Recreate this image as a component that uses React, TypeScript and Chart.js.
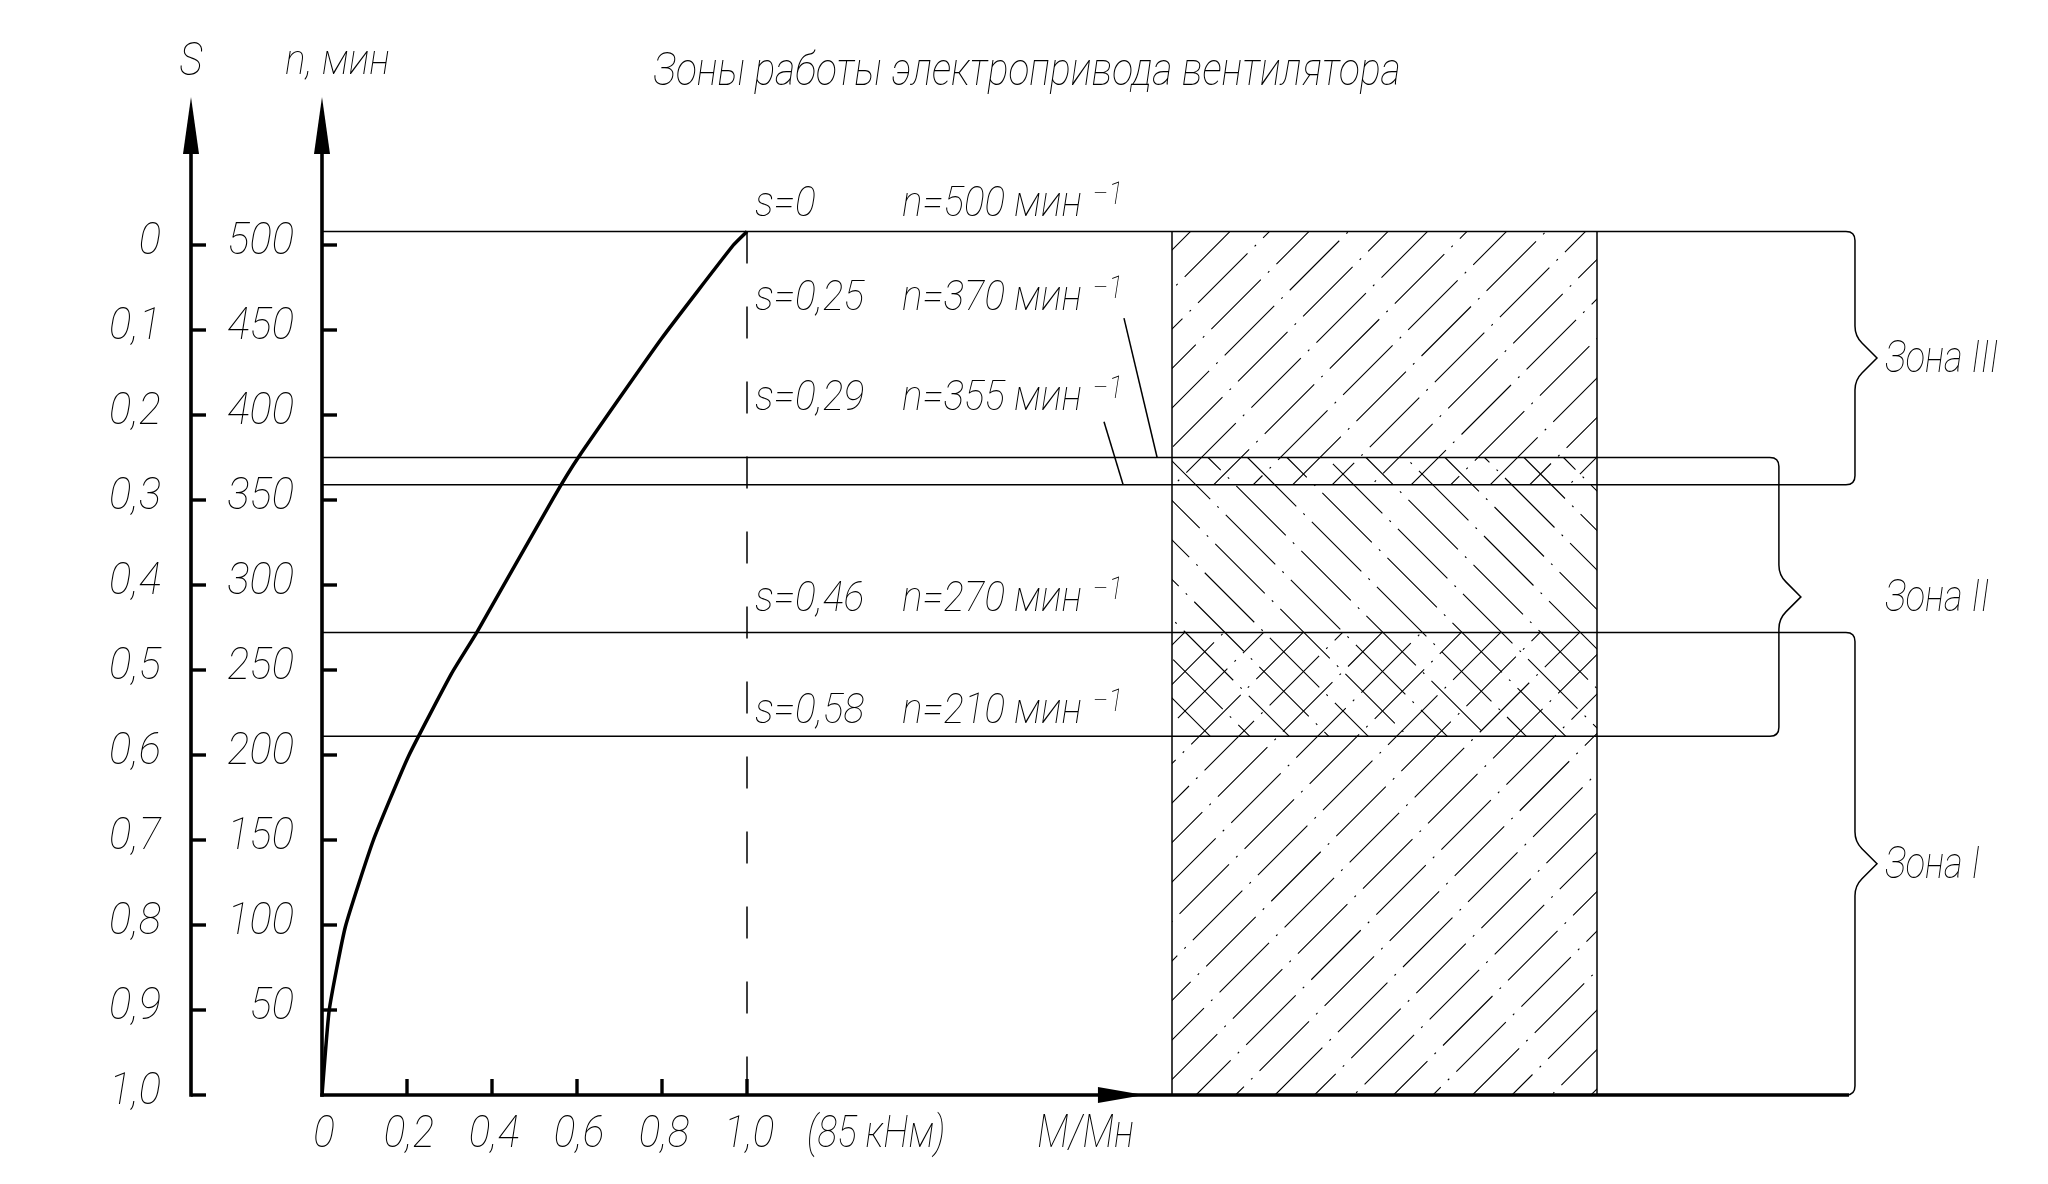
import React, { useEffect, useRef } from "react";
import { Chart, registerables } from "chart.js";

Chart.register(...registerables);

// ---- data ----
const torqueM = [0, 0.017, 0.055, 0.121, 0.203, 0.305, 0.364, 0.544, 0.603, 0.799, 0.968, 1.0];
const speedN = [0, 50, 99, 150, 199, 248, 272, 351, 375, 445, 500, 508];

const nTickValues = [50, 100, 150, 200, 250, 300, 350, 400, 450, 500];
const sTickValues = [0, 0.1, 0.2, 0.3, 0.4, 0.5, 0.6, 0.7, 0.8, 0.9, 1.0];
const sTickLabels = ["0", "0,1", "0,2", "0,3", "0,4", "0,5", "0,6", "0,7", "0,8", "0,9", "1,0"];
const mTickValues = [0, 0.2, 0.4, 0.6, 0.8, 1.0];
const mTickLabels = ["0", "0,2", "0,4", "0,6", "0,8", "1,0"];

// boundary lines (n as drawn) and their annotations
const boundaryN = [508, 375, 359, 272, 211];
const boundarySlip = ["s=0", "s=0,25", "s=0,29", "s=0,46", "s=0,58"];
const boundarySpeed = ["n=500 мин", "n=370 мин", "n=355 мин", "n=270 мин", "n=210 мин"];

// zones
const zoneNames = ["Зона III", "Зона II", "Зона I"];
const zoneTopN = [508, 375, 272];
const zoneBottomN = [359, 211, 0];
const zoneHatch = ["/", "\\", "/"];

const hatchM = [2.0, 3.0];
const nominalM = 1.0;

const titleText = "Зоны работы электропривода вентилятора";

// ---- layout (positions, not data) ----
const annotationN = [517, 462, 403, 285, 219];
const zoneBraceM = [3.607, 3.428, 3.607];
const leaderLines = [
  [1.887, 457, 1.965, 375],
  [1.84, 396, 1.885, 359],
];

const FONT = "Roboto";

function txt(
  ctx: CanvasRenderingContext2D,
  s: string,
  x: number,
  y: number,
  size: number,
  align: CanvasTextAlign = "left",
  sx = 0.8
): number {
  ctx.save();
  ctx.font = `italic 100 ${size}px ${FONT}`;
  ctx.textAlign = align;
  ctx.textBaseline = "alphabetic";
  ctx.fillStyle = "#000";
  ctx.translate(x, y);
  ctx.scale(sx, 1);
  ctx.fillText(s, 0, 0);
  const w = ctx.measureText(s).width * sx;
  ctx.restore();
  return w;
}

function hatch(
  ctx: CanvasRenderingContext2D,
  x0: number,
  y0: number,
  x1: number,
  y1: number,
  dir: string
) {
  const sp = 39.5;
  ctx.save();
  ctx.beginPath();
  ctx.rect(x0, y0, x1 - x0, y1 - y0);
  ctx.clip();
  ctx.strokeStyle = "#000";
  ctx.lineWidth = 1.1;
  if (dir === "/") {
    const cStart = Math.floor((x0 + y0) / sp) * sp;
    let i = 0;
    for (let c = cStart; c <= x1 + y1; c += sp, i++) {
      ctx.setLineDash([70, 10, 2, 10]);
      ctx.lineDashOffset = (i * 37) % 92;
      ctx.beginPath();
      ctx.moveTo(c - y1, y1);
      ctx.lineTo(c - y0, y0);
      ctx.stroke();
    }
  } else {
    const cStart = Math.floor((x0 - y1) / sp) * sp;
    let i = 0;
    for (let c = cStart; c <= x1 - y0; c += sp, i++) {
      ctx.setLineDash([70, 10, 2, 10]);
      ctx.lineDashOffset = (i * 41) % 92;
      ctx.beginPath();
      ctx.moveTo(c + y0, y0);
      ctx.lineTo(c + y1, y1);
      ctx.stroke();
    }
  }
  ctx.restore();
}

function brace(
  ctx: CanvasRenderingContext2D,
  xL: number,
  bx: number,
  yT: number,
  yB: number
) {
  const r = 9;
  const tip = 22;
  const ym = (yT + yB) / 2;
  ctx.beginPath();
  ctx.moveTo(xL, yT);
  ctx.lineTo(bx - r, yT);
  ctx.quadraticCurveTo(bx, yT, bx, yT + r);
  ctx.lineTo(bx, ym - 32);
  ctx.quadraticCurveTo(bx, ym - 22, bx + 7, ym - 15);
  ctx.lineTo(bx + tip, ym);
  ctx.lineTo(bx + 7, ym + 15);
  ctx.quadraticCurveTo(bx, ym + 22, bx, ym + 32);
  ctx.lineTo(bx, yB - r);
  ctx.quadraticCurveTo(bx, yB, bx - r, yB);
  ctx.lineTo(xL, yB);
  ctx.stroke();
}

function arrowUp(ctx: CanvasRenderingContext2D, x: number, yTip: number) {
  ctx.beginPath();
  ctx.moveTo(x, yTip);
  ctx.lineTo(x + 8, yTip + 57);
  ctx.lineTo(x - 8, yTip + 57);
  ctx.closePath();
  ctx.fill();
}

const drawingPlugin = {
  id: "drawing",
  beforeDraw(chart: any) {
    const ctx = chart.ctx;
    ctx.save();
    ctx.fillStyle = "#fff";
    ctx.fillRect(0, 0, chart.width, chart.height);
    ctx.restore();
  },
  beforeDatasetsDraw(chart: any) {
    const ctx: CanvasRenderingContext2D = chart.ctx;
    const xs = chart.scales.x;
    const ys = chart.scales.y;
    const X = (v: number) => xs.getPixelForValue(v);
    const Y = (v: number) => ys.getPixelForValue(v);
    ctx.save();
    ctx.strokeStyle = "#000";
    ctx.fillStyle = "#000";

    // hatching
    for (let i = 0; i < zoneNames.length; i++) {
      hatch(ctx, X(hatchM[0]), Y(zoneTopN[i]), X(hatchM[1]), Y(zoneBottomN[i]), zoneHatch[i]);
    }
    ctx.setLineDash([]);
    ctx.lineWidth = 1.5;
    // hatch rectangle borders
    for (const m of hatchM) {
      ctx.beginPath();
      ctx.moveTo(X(m), Y(zoneTopN[0]));
      ctx.lineTo(X(m), Y(0));
      ctx.stroke();
    }
    // boundary lines + braces
    for (let i = 0; i < zoneNames.length; i++) {
      brace(ctx, X(0), X(zoneBraceM[i]), Y(zoneTopN[i]), Y(zoneBottomN[i]));
    }
    // zone labels
    const labelX = X(Math.max(...zoneBraceM)) + 30;
    for (let i = 0; i < zoneNames.length; i++) {
      const ym = (Y(zoneTopN[i]) + Y(zoneBottomN[i])) / 2;
      txt(ctx, zoneNames[i], labelX, ym + 14, 44, "left", 0.82);
    }
    // nominal torque dashed line
    ctx.save();
    ctx.lineWidth = 1.5;
    ctx.setLineDash([32, 43]);
    ctx.beginPath();
    ctx.moveTo(X(nominalM), Y(boundaryN[0]));
    ctx.lineTo(X(nominalM), Y(0));
    ctx.stroke();
    ctx.restore();
    // leader lines
    ctx.lineWidth = 1.5;
    for (const l of leaderLines) {
      ctx.beginPath();
      ctx.moveTo(X(l[0]), Y(l[1]));
      ctx.lineTo(X(l[2]), Y(l[3]));
      ctx.stroke();
    }
    // annotations
    const sX = X(nominalM) + 8;
    const nX = sX + 147;
    for (let i = 0; i < boundaryN.length; i++) {
      const by = Y(annotationN[i]);
      txt(ctx, boundarySlip[i], sX, by, 42, "left", 0.93);
      const w = txt(ctx, boundarySpeed[i], nX, by, 42, "left", 0.92);
      txt(ctx, "\u22121", nX + w + 10, by - 12, 32, "left", 0.9);
    }
    ctx.restore();
  },
  afterDatasetsDraw(chart: any) {
    const ctx: CanvasRenderingContext2D = chart.ctx;
    const xs = chart.scales.x;
    const ys = chart.scales.y;
    const ss = chart.scales.s;
    const X = (v: number) => xs.getPixelForValue(v);
    const Y = (v: number) => ys.getPixelForValue(v);
    const x0 = X(0);
    const y0 = Y(0);
    const sAxisX = x0 - 131;
    const topTip = chart.chartArea.top + 22;
    ctx.save();
    ctx.strokeStyle = "#000";
    ctx.fillStyle = "#000";
    ctx.setLineDash([]);
    ctx.lineWidth = 3.6;
    ctx.lineCap = "butt";
    // S axis
    ctx.beginPath();
    ctx.moveTo(sAxisX, topTip + 40);
    ctx.lineTo(sAxisX, y0 + 1.8);
    ctx.stroke();
    arrowUp(ctx, sAxisX, topTip);
    // n axis
    ctx.beginPath();
    ctx.moveTo(x0, topTip + 40);
    ctx.lineTo(x0, y0 + 1.8);
    ctx.stroke();
    arrowUp(ctx, x0, topTip);
    // M axis
    const xEnd = X(Math.max(...zoneBraceM)) - 6;
    ctx.beginPath();
    ctx.moveTo(x0 - 1.8, y0);
    ctx.lineTo(xEnd, y0);
    ctx.stroke();
    const aTip = X(1.934);
    ctx.beginPath();
    ctx.moveTo(aTip, y0);
    ctx.lineTo(aTip - 46, y0 - 8);
    ctx.lineTo(aTip - 46, y0 + 8);
    ctx.closePath();
    ctx.fill();

    // S ticks
    ctx.lineWidth = 3.4;
    for (let i = 0; i < sTickValues.length; i++) {
      const y = ss.getPixelForValue(sTickValues[i]);
      ctx.beginPath();
      ctx.moveTo(sAxisX, y);
      ctx.lineTo(sAxisX + 15, y);
      ctx.stroke();
      txt(ctx, sTickLabels[i], sAxisX - 30, y + 9, 45, "right", 0.93);
    }
    // n ticks
    for (const v of nTickValues) {
      const y = Y(v);
      ctx.beginPath();
      ctx.moveTo(x0, y);
      ctx.lineTo(x0 + 15, y);
      ctx.stroke();
      txt(ctx, String(v), x0 - 28, y + 9, 45, "right", 0.93);
    }
    // M ticks
    for (let i = 0; i < mTickValues.length; i++) {
      const x = X(mTickValues[i]);
      if (mTickValues[i] !== 0) {
        ctx.beginPath();
        ctx.moveTo(x, y0);
        ctx.lineTo(x, y0 - 16);
        ctx.stroke();
      }
      txt(ctx, mTickLabels[i], x + 2, y0 + 52, 45, "center", 0.9);
    }
    // axis titles
    txt(ctx, "(85 кНм)", X(nominalM) + 60, y0 + 52, 45, "left", 0.82);
    txt(ctx, "М/Мн", X(1.683), y0 + 52, 46, "left", 0.82);
    txt(ctx, "S", sAxisX, 75, 47, "center", 0.85);
    txt(ctx, "n, мин", x0 - 37, 74, 43, "left", 0.9);
    // title
    txt(ctx, titleText, 1027, 85, 46, "center", 0.85);
    ctx.restore();
  },
};

export default function App() {
  const ref = useRef<HTMLCanvasElement | null>(null);
  useEffect(() => {
    document.body.style.margin = "0";
    const canvas = ref.current;
    if (!canvas) return;
    const chart = new Chart(canvas, {
      type: "line",
      data: {
        datasets: [
          {
            data: torqueM.map((m, i) => ({ x: m, y: speedN[i] })),
            borderColor: "#000",
            borderWidth: 3.5,
            pointRadius: 0,
            tension: 0.15,
            fill: false,
          },
        ],
      },
      options: {
        animation: false,
        responsive: false,
        maintainAspectRatio: false,
        devicePixelRatio: 1,
        layout: { padding: { left: 322, right: 26, top: 75, bottom: 89 } },
        scales: {
          x: { type: "linear", min: 0, max: 4, display: false },
          y: { type: "linear", min: 0, max: 600, display: false },
          s: { type: "linear", min: -0.2, max: 1, reverse: true, display: false, position: "left" },
        },
        plugins: {
          legend: { display: false },
          tooltip: { enabled: false },
          title: { display: false },
        },
      } as any,
      plugins: [drawingPlugin],
    });
    return () => chart.destroy();
  }, []);
  return (
    <div style={{ position: "fixed", left: 0, top: 0, width: 2048, height: 1184, background: "#fff" }}>
      <canvas ref={ref} width={2048} height={1184} style={{ display: "block", width: 2048, height: 1184 }} />
    </div>
  );
}
